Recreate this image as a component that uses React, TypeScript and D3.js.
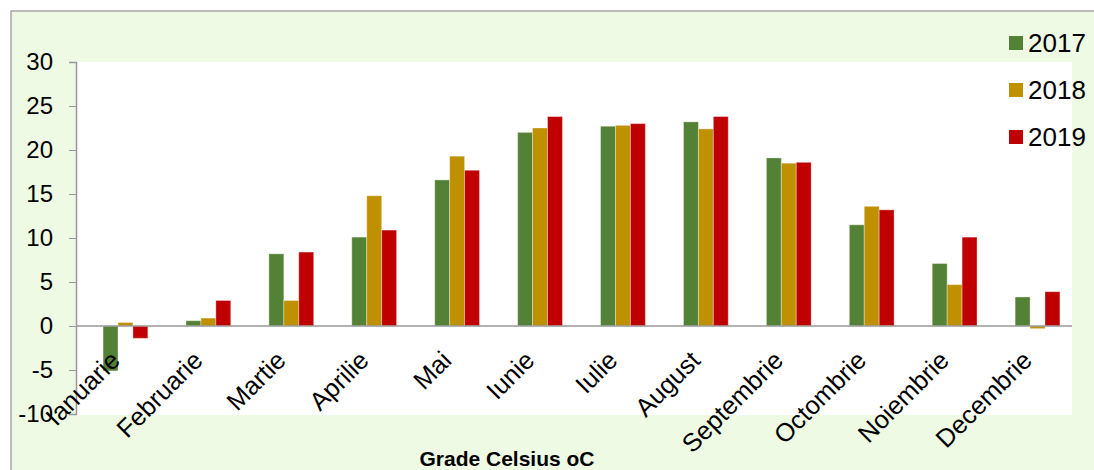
import { useEffect, useRef } from "react";
import * as d3 from "d3";

const WIDTH = 1094;
const HEIGHT = 470;
const plot = { left: 76, right: 1072, top: 62, bottom: 415 };

const MONTHS: string[] = [
  "Ianuarie", "Februarie", "Martie", "Aprilie", "Mai", "Iunie",
  "Iulie", "August", "Septembrie", "Octombrie", "Noiembrie", "Decembrie",
];
const YEARS: string[] = ["2017", "2018", "2019"];
const T2017: number[] = [-5.1, 0.6, 8.2, 10.1, 16.6, 22.0, 22.7, 23.2, 19.1, 11.5, 7.1, 3.3];
const T2018: number[] = [0.4, 0.9, 2.9, 14.8, 19.3, 22.5, 22.8, 22.4, 18.5, 13.6, 4.7, -0.3];
const T2019: number[] = [-1.4, 2.9, 8.4, 10.9, 17.7, 23.8, 23.0, 23.8, 18.6, 13.2, 10.1, 3.9];
const COLORS: string[] = ["#538135", "#BF9000", "#C00000"];
const Y_TICKS: number[] = [-10, -5, 0, 5, 10, 15, 20, 25, 30];

const App = () => {
  const svgRef = useRef<SVGSVGElement | null>(null);

  useEffect(() => {
    if (!svgRef.current) return;
    const svg = d3.select(svgRef.current);
    svg.selectAll("*").remove();

    const series = [T2017, T2018, T2019];

    // background frame
    svg.append("rect")
      .attr("x", 11).attr("y", 11)
      .attr("width", WIDTH).attr("height", HEIGHT)
      .attr("fill", "#EEFAE4")
      .attr("stroke", "#A6A6A6")
      .attr("stroke-width", 1.5);

    svg.append("rect")
      .attr("x", plot.left).attr("y", plot.top)
      .attr("width", plot.right - plot.left)
      .attr("height", plot.bottom - plot.top)
      .attr("fill", "#fff");

    // scales
    const y = d3.scaleLinear().domain([-10, 30]).range([414, 62]);
    const x = d3.scaleBand<string>().domain(MONTHS).range([84, 1079]);
    const barW = x.bandwidth() * 0.18;
    const inner = d3.scaleBand<string>()
      .domain(YEARS)
      .range([-1.5 * barW, 1.5 * barW]);

    // y axis
    const yAxis = svg.append("g")
      .attr("transform", `translate(${plot.left},0)`)
      .call(d3.axisLeft(y).tickValues(Y_TICKS).tickSize(7).tickPadding(16).tickFormat((d) => String(d)));
    yAxis.select(".domain").attr("stroke", "#999").attr("stroke-width", 1.5);
    yAxis.selectAll(".tick line").attr("stroke", "#999");
    yAxis.selectAll(".tick text")
      .attr("font-family", "Liberation Sans, Arial, sans-serif")
      .attr("font-size", 24)
      .attr("fill", "#000");

    // bars
    YEARS.forEach((yr, si) => {
      svg.append("g")
        .selectAll("rect")
        .data(series[si])
        .join("rect")
        .attr("x", (_, i) => (x(MONTHS[i]) as number) + x.bandwidth() / 2 + (inner(yr) as number))
        .attr("y", (d) => y(Math.max(0, d)))
        .attr("width", inner.bandwidth())
        .attr("height", (d) => Math.abs(y(d) - y(0)))
        .attr("fill", COLORS[si])
        .attr("stroke", "rgba(255,255,255,0.35)")
        .attr("stroke-width", 1);
    });

    // zero line
    svg.append("line")
      .attr("x1", plot.left).attr("x2", plot.right)
      .attr("y1", y(0)).attr("y2", y(0))
      .attr("stroke", "#999")
      .attr("stroke-width", 1.5);

    // month labels
    svg.append("g")
      .selectAll("text")
      .data(MONTHS)
      .join("text")
      .attr("transform", (d) => `translate(${(x(d) as number) + x.bandwidth() / 2 - 4},${362}) rotate(-45)`)
      .attr("text-anchor", "end")
      .attr("font-family", "Liberation Sans, Arial, sans-serif")
      .attr("font-size", 25.5)
      .attr("fill", "#000")
      .text((d) => d);

    // axis title
    svg.append("text")
      .attr("x", 507).attr("y", 466)
      .attr("text-anchor", "middle")
      .attr("font-family", "Liberation Sans, Arial, sans-serif")
      .attr("font-size", 21)
      .attr("font-weight", "bold")
      .attr("fill", "#000")
      .text("Grade Celsius oC");

    // legend
    const legend = svg.append("g")
      .selectAll("g")
      .data(YEARS)
      .join("g")
      .attr("transform", (_, i) => `translate(1009,${43 + i * 47})`);
    legend.append("rect")
      .attr("x", 0).attr("y", -7)
      .attr("width", 14).attr("height", 14)
      .attr("fill", (_, i) => COLORS[i]);
    legend.append("text")
      .attr("x", 19).attr("y", 9)
      .attr("font-family", "Liberation Sans, Arial, sans-serif")
      .attr("font-size", 26)
      .attr("fill", "#000")
      .text((d) => d);
  }, []);

  return (
    <div style={{ position: "absolute", left: 0, top: 0 }}>
      <svg ref={svgRef} width={WIDTH} height={HEIGHT} style={{ display: "block" }} />
    </div>
  );
};

export default App;
